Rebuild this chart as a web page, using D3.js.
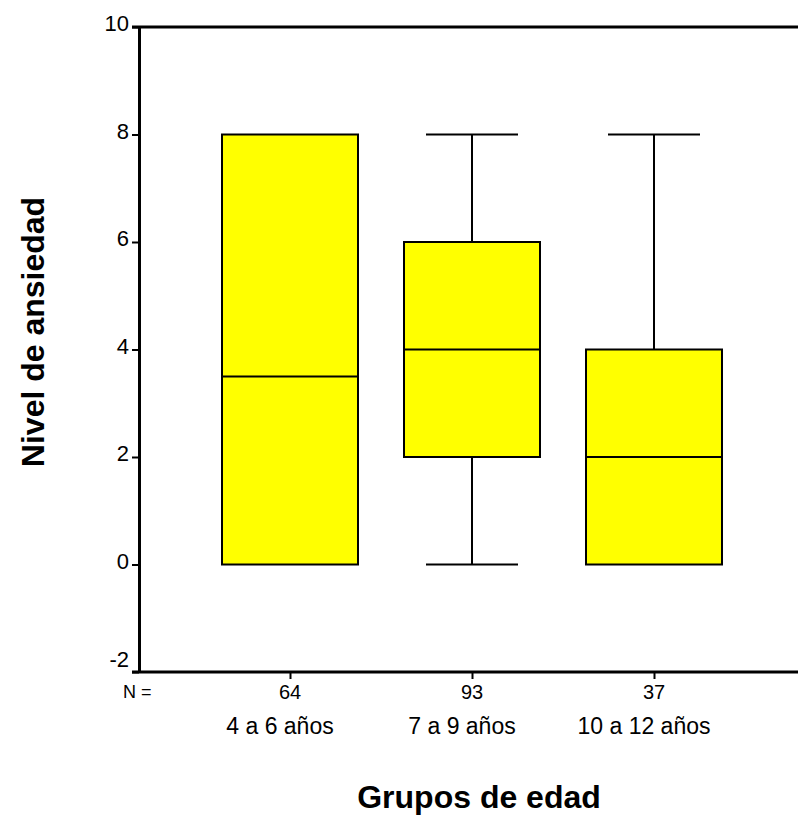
<!DOCTYPE html>
<html>
<head>
<meta charset="utf-8">
<script src="https://cdn.jsdelivr.net/npm/d3@7"></script>
<style>
  html, body { margin: 0; padding: 0; background: #fff; }
  svg { display: block; }
  text { font-family: "Liberation Sans", Arial, sans-serif; fill: #000; }
</style>
</head>
<body>
<svg id="chart" width="798" height="816"></svg>
<script>
// Age groups and their sample sizes
const groups = ["4 a 6 años", "7 a 9 años", "10 a 12 años"];
const counts = [64, 93, 37];

// Five-number summaries of anxiety level per group
const whiskerLow  = [0, 0, 0];
const quartile1   = [0, 2, 0];
const medians     = [3.5, 4, 2];
const quartile3   = [8, 6, 4];
const whiskerHigh = [8, 8, 8];

const yTicks = [-2, 0, 2, 4, 6, 8, 10];

const svg = d3.select("#chart");

const plotLeft = 139, plotRight = 798, plotTop = 27, plotBottom = 672;

const y = d3.scaleLinear().domain([-2, 10]).range([plotBottom, plotTop]);
const x = d3.scalePoint().domain(groups).range([290, 654]);
const boxW = 136, capW = 92;

// Frame: top line
svg.append("line")
  .attr("x1", plotLeft - 7).attr("x2", plotRight)
  .attr("y1", plotTop).attr("y2", plotTop)
  .attr("stroke", "#000").attr("stroke-width", 3);

// Y axis
const yAxis = svg.append("g")
  .attr("transform", `translate(${plotLeft},0)`)
  .call(d3.axisLeft(y).tickValues(yTicks).tickSize(7).tickSizeOuter(0)
    .tickFormat(d => String(d)));
yAxis.select(".domain").attr("stroke", "#000").attr("stroke-width", 3);
yAxis.selectAll(".tick line").attr("stroke", "#000").attr("stroke-width", 2);
yAxis.selectAll(".tick text")
  .style("font-size", "22px")
  .attr("dy", d => d === -2 ? "-0.24em" : "0.18em")
  .attr("x", -10);

// X axis along the bottom
const xAxis = svg.append("g")
  .attr("transform", `translate(0,${plotBottom})`)
  .call(d3.axisBottom(x).tickSize(7).tickSizeOuter(0).tickFormat(""));
xAxis.select(".domain").remove();
xAxis.selectAll(".tick line").attr("stroke", "#000").attr("stroke-width", 2);
svg.append("line")
  .attr("x1", plotLeft - 7).attr("x2", plotRight)
  .attr("y1", plotBottom).attr("y2", plotBottom)
  .attr("stroke", "#000").attr("stroke-width", 3);

// Boxes
const data = groups.map((g, i) => ({
  g, n: counts[i], lo: whiskerLow[i], q1: quartile1[i], med: medians[i],
  q3: quartile3[i], hi: whiskerHigh[i]
}));

const box = svg.append("g").selectAll("g").data(data).join("g");

// Whiskers
box.append("line")
  .attr("x1", d => x(d.g)).attr("x2", d => x(d.g))
  .attr("y1", d => y(d.hi)).attr("y2", d => y(d.q3))
  .attr("stroke", "#000").attr("stroke-width", 2);
box.append("line")
  .attr("x1", d => x(d.g)).attr("x2", d => x(d.g))
  .attr("y1", d => y(d.q1)).attr("y2", d => y(d.lo))
  .attr("stroke", "#000").attr("stroke-width", 2);
box.filter(d => d.hi > d.q3).append("line")
  .attr("x1", d => x(d.g) - capW / 2).attr("x2", d => x(d.g) + capW / 2)
  .attr("y1", d => y(d.hi)).attr("y2", d => y(d.hi))
  .attr("stroke", "#000").attr("stroke-width", 2);
box.filter(d => d.lo < d.q1).append("line")
  .attr("x1", d => x(d.g) - capW / 2).attr("x2", d => x(d.g) + capW / 2)
  .attr("y1", d => y(d.lo)).attr("y2", d => y(d.lo))
  .attr("stroke", "#000").attr("stroke-width", 2);

box.append("rect")
  .attr("x", d => x(d.g) - boxW / 2)
  .attr("width", boxW)
  .attr("y", d => y(d.q3))
  .attr("height", d => y(d.q1) - y(d.q3))
  .attr("fill", "#ffff00")
  .attr("stroke", "#000").attr("stroke-width", 2);

box.append("line")
  .attr("x1", d => x(d.g) - boxW / 2).attr("x2", d => x(d.g) + boxW / 2)
  .attr("y1", d => y(d.med)).attr("y2", d => y(d.med))
  .attr("stroke", "#000").attr("stroke-width", 2);

// Sample sizes and group labels
svg.append("text")
  .attr("x", 123).attr("y", 698)
  .style("font-size", "18px")
  .text("N =");

svg.append("g").selectAll("text").data(data).join("text")
  .attr("x", d => x(d.g)).attr("y", 699)
  .attr("text-anchor", "middle")
  .style("font-size", "20px")
  .text(d => d.n);

svg.append("g").selectAll("text").data(data).join("text")
  .attr("x", d => x(d.g) - 10).attr("y", 734)
  .attr("text-anchor", "middle")
  .style("font-size", "23px")
  .text(d => d.g);

// Axis titles
svg.append("text")
  .attr("x", 479).attr("y", 808)
  .attr("text-anchor", "middle")
  .style("font-size", "32px").style("font-weight", "bold")
  .text("Grupos de edad");

svg.append("text")
  .attr("transform", "translate(44,332) rotate(-90)")
  .attr("text-anchor", "middle")
  .style("font-size", "32px").style("font-weight", "bold")
  .text("Nivel de ansiedad");
</script>
</body>
</html>
